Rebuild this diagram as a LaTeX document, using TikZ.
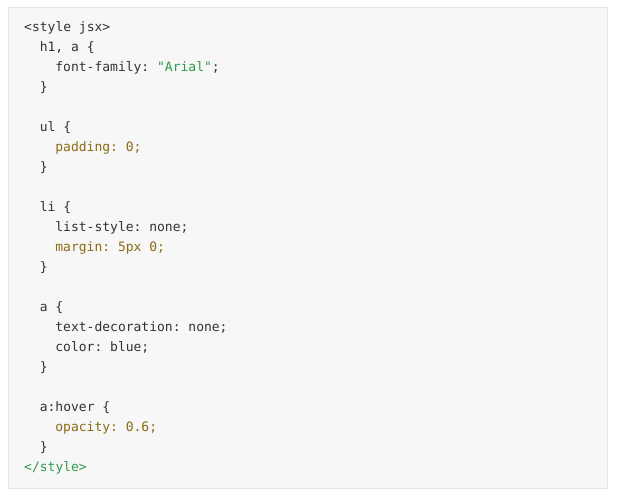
\documentclass[tikz,border=0pt]{standalone}
\usepackage{fontspec}
\setmonofont{DejaVu Sans Mono}
\definecolor{codebg}{HTML}{F7F7F7}
\definecolor{codeframe}{HTML}{E6E6E6}
\definecolor{codetext}{HTML}{333333}
\definecolor{codestr}{HTML}{2F9C4A}
\definecolor{codeprop}{HTML}{8A6A12}
\begin{document}
\begin{tikzpicture}[x=1pt, y=1pt,
  codeline/.style={anchor=base west, inner sep=0pt, text=codetext, font=\ttfamily\fontsize{13}{20}\selectfont}]
\useasboundingbox (0,0) rectangle (619,494);
\draw[draw=codeframe, fill=codebg] (8,6) rectangle (607,487);
\node[codeline] (open) at (24,462.5) {<style jsx>};
\node[codeline] (h1sel) at (39.6,442.5) {h1, a \{};
\node[codeline] (h1font) at (55.2,422.5) {font-family: \textcolor{codestr}{"Arial"};};
\node[codeline] (h1end) at (39.6,402.5) {\}};
\node[codeline] (ulsel) at (39.6,362.5) {ul \{};
\node[codeline, text=codeprop] (ulpad) at (55.2,342.5) {padding: 0;};
\node[codeline] (ulend) at (39.6,322.5) {\}};
\node[codeline] (lisel) at (39.6,282.5) {li \{};
\node[codeline] (lilist) at (55.2,262.5) {list-style: none;};
\node[codeline, text=codeprop] (limargin) at (55.2,242.5) {margin: 5px 0;};
\node[codeline] (liend) at (39.6,222.5) {\}};
\node[codeline] (asel) at (39.6,182.5) {a \{};
\node[codeline] (adeco) at (55.2,162.5) {text-decoration: none;};
\node[codeline] (acolor) at (55.2,142.5) {color: blue;};
\node[codeline] (aend) at (39.6,122.5) {\}};
\node[codeline] (hoversel) at (39.6,82.5) {a:hover \{};
\node[codeline, text=codeprop] (hoverop) at (55.2,62.5) {opacity: 0.6;};
\node[codeline] (hoverend) at (39.6,42.5) {\}};
\node[codeline, text=codestr] (close) at (24,22.5) {</style>};
\end{tikzpicture}
\end{document}
